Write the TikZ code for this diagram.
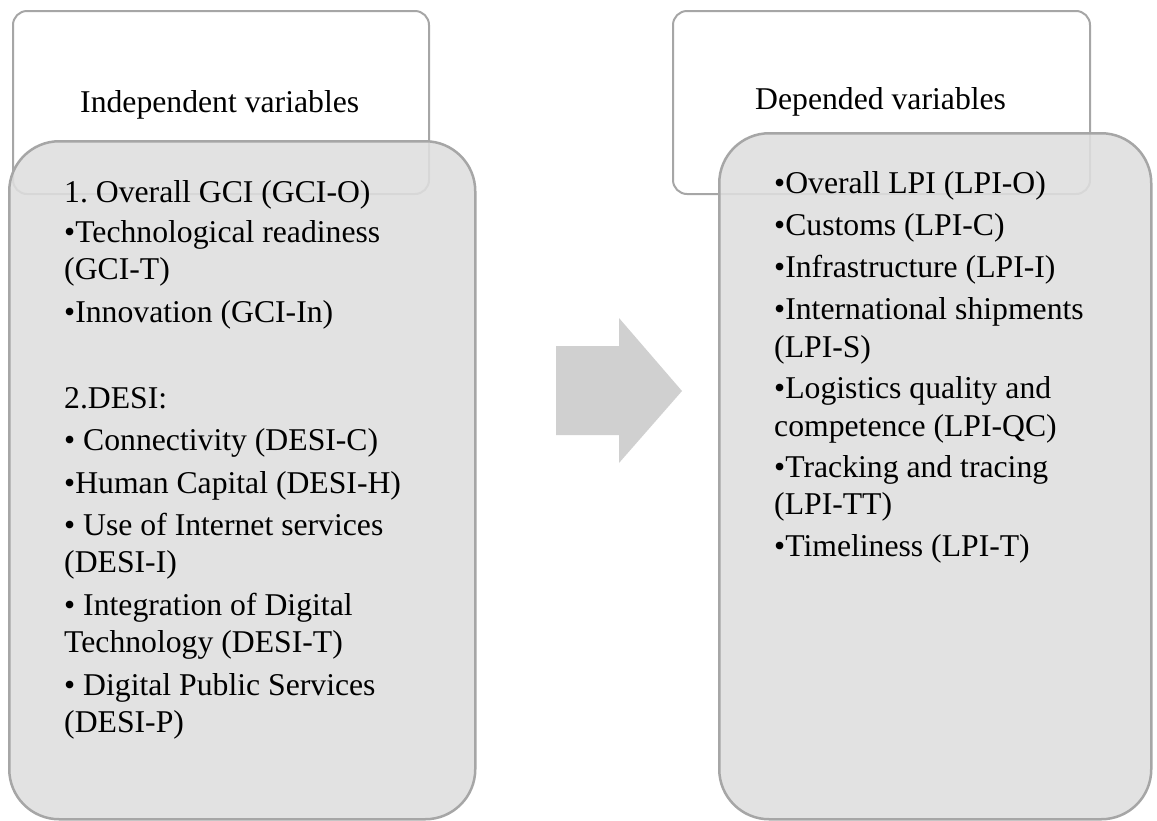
\documentclass[tikz,border=0pt]{standalone}
\usepackage{fontspec}
\setmainfont{Liberation Serif}
\frenchspacing
\definecolor{edge}{RGB}{166,166,166}
\definecolor{panel}{RGB}{222,222,222}
\definecolor{arrowgray}{RGB}{208,208,208}
\begin{document}
\begin{tikzpicture}[x=1pt,y=-1pt,
  hdrbox/.style={draw=edge, line width=2pt, rounded corners=14pt, fill=white, anchor=north west, inner sep=0pt},
  panelbox/.style={draw=edge, line width=2.5pt, rounded corners=50pt, fill=panel, fill opacity=0.88, anchor=north west, inner sep=0pt},
  txt/.style={anchor=base west, inner sep=0pt, font=\fontsize{31.7}{37}\selectfont},
]
\useasboundingbox (0,0) rectangle (1157,820);

% header boxes
\node[hdrbox, minimum width=416pt, minimum height=183pt] (hl) at (12,10) {};
\node[hdrbox, minimum width=417pt, minimum height=183pt] (hr) at (672,10) {};

% translucent content panels
\node[panelbox, minimum width=466pt, minimum height=678pt] (pl) at (8,140) {};
\node[panelbox, minimum width=432pt, minimum height=686pt] (pr) at (718,132) {};

% header titles
\node[txt] (hlt) at (80,112) {Independent variables};
\node[txt] (hrt) at (755,109) {Depended variables};

% left column
\foreach \yy/\s [count=\i] in {
  202/{1. Overall GCI (GCI-O)},
  242/{•Technological readiness},
  279/{(GCI-T)},
  322/{•Innovation (GCI-In)},
  408/{2.DESI:},
  450/{• Connectivity (DESI-C)},
  493/{•Human Capital (DESI-H)},
  535/{• Use of Internet services},
  572/{(DESI-I)},
  615/{• Integration of Digital},
  652/{Technology (DESI-T)},
  695/{• Digital Public Services},
  732/{(DESI-P)}}
  \node[txt] (l\i) at (64,\yy) {\s};

% right column
\foreach \yy/\s [count=\i] in {
  193/{•Overall LPI (LPI-O)},
  235/{•Customs (LPI-C)},
  277/{•Infrastructure (LPI-I)},
  319/{•International shipments},
  357/{(LPI-S)},
  398/{•Logistics quality and},
  436/{competence (LPI-QC)},
  477/{•Tracking and tracing},
  514/{(LPI-TT)},
  556/{•Timeliness (LPI-T)}}
  \node[txt] (r\i) at (774,\yy) {\s};

% block arrow between the panels
\fill[arrowgray] (556,346) -- (619,346) -- (619,318) -- (682,391)
  -- (619,463) -- (619,435) -- (556,435) -- cycle;
\end{tikzpicture}
\end{document}
